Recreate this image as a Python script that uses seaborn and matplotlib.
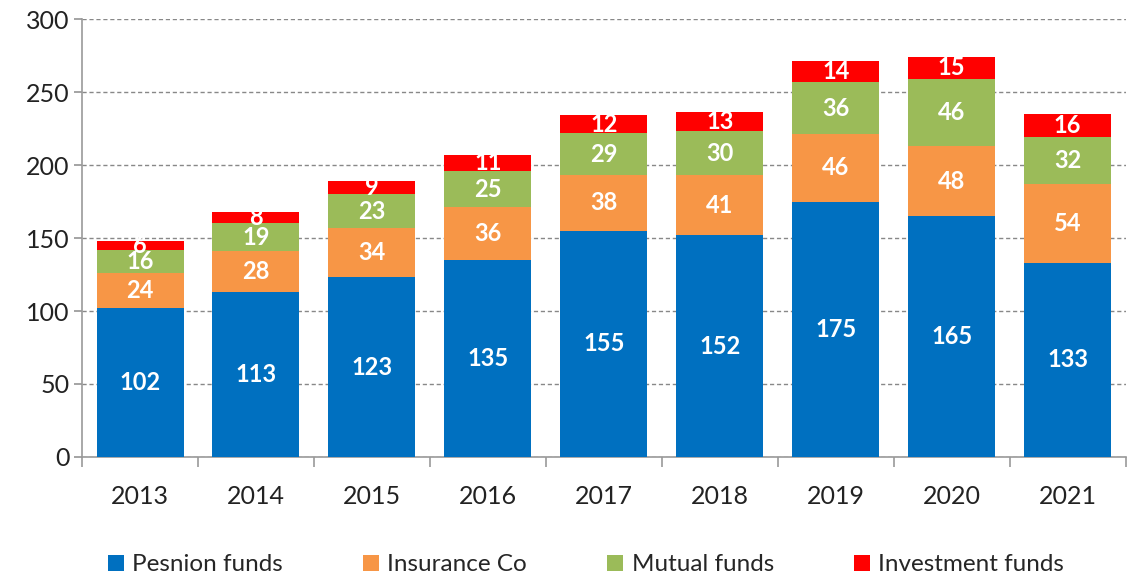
import numpy as np
import pandas as pd
import matplotlib
matplotlib.use("Agg")
import matplotlib.pyplot as plt
import seaborn as sns
from matplotlib.patches import Patch

years = ["2013", "2014", "2015", "2016", "2017", "2018", "2019", "2020", "2021"]
pension = [102, 113, 123, 135, 155, 152, 175, 165, 133]
insurance = [24, 28, 34, 36, 38, 41, 46, 48, 54]
mutual = [16, 19, 23, 25, 29, 30, 36, 46, 32]
investment = [6, 8, 9, 11, 12, 13, 14, 15, 16]
series_names = ["Pesnion funds", "Insurance Co", "Mutual funds", "Investment funds"]
colors = ["#0070C0", "#F79646", "#9BBB59", "#FF0000"]

sns.set_theme(style="white")
plt.rcParams["font.family"] = ["Lato", "DejaVu Sans"]

fig = plt.figure(figsize=(11.27, 5.77), dpi=100)
ax = fig.add_axes([0.0728, 0.208, 0.926, 0.759])

series = [pension, insurance, mutual, investment]
bottom = np.zeros(len(years))
for name, vals, col in zip(series_names, series, colors):
    df = pd.DataFrame({"year": years, "value": vals})
    sns.barplot(data=df, x="year", y="value", color=col, bottom=bottom,
                width=0.75, ax=ax, zorder=3, saturation=1, linewidth=0)
    bottom = bottom + np.array(vals)

for cont in ax.containers:
    ax.bar_label(cont, label_type="center", color="white", fontsize=17,
                 fontweight="bold")

ax.set_ylim(0, 300)
ax.set_xlim(-0.5, len(years) - 0.5)
ax.set_yticks(np.arange(0, 301, 50))
ax.set_xlabel("")
ax.set_ylabel("")
ax.grid(axis="y", linestyle=(0, (3, 2)), color="#888888", linewidth=1.0, zorder=0)
ax.set_axisbelow(True)
for s in ["top", "right"]:
    ax.spines[s].set_visible(False)
for s in ["left", "bottom"]:
    ax.spines[s].set_color("#999999")
    ax.spines[s].set_linewidth(1.2)
ax.tick_params(axis="y", which="major", length=6, color="#999999", labelsize=18,
               labelcolor="#222222", direction="out", left=True, pad=3)
ax.tick_params(axis="x", which="major", length=0, labelsize=18,
               labelcolor="#222222", pad=20)
ax.set_xticks(np.arange(-0.5, len(years), 1), minor=True)
ax.tick_params(axis="x", which="minor", length=7, color="#999999", bottom=True,
               direction="out", width=1.2)

handles = [Patch(facecolor=c, edgecolor="none") for c in colors]
fig.legend(handles, series_names, loc="lower center", bbox_to_anchor=(0.52, -0.035),
           ncol=4, frameon=False, fontsize=17.5, handlelength=0.65, handleheight=0.65,
           columnspacing=3.3, handletextpad=0.35)

fig.savefig("out.png", dpi=100)
